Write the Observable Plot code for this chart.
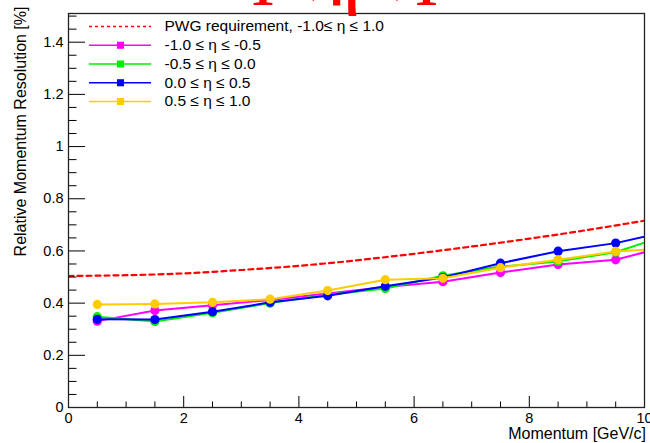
<!DOCTYPE html>
<html><head><meta charset="utf-8">
<script src="https://cdn.jsdelivr.net/npm/d3@7"></script>
<script src="https://cdn.jsdelivr.net/npm/@observablehq/plot@0.6"></script>
<style>html,body{margin:0;padding:0;background:#fff;} svg{display:block}</style>
</head><body><div id="chart"></div>
<script>
// ---- data ----
const momentum = [0.5, 1.5, 2.5, 3.5, 4.5, 5.5, 6.5, 7.5, 8.5, 9.5, 10.5];
const resEtaM10toM05 = [0.331, 0.372, 0.392, 0.412, 0.437, 0.462, 0.482, 0.517, 0.548, 0.566, 0.624];
const resEtaM05to00  = [0.348, 0.330, 0.363, 0.400, 0.432, 0.456, 0.505, 0.540, 0.560, 0.595, 0.669];
const resEta00to05   = [0.338, 0.337, 0.367, 0.403, 0.428, 0.465, 0.498, 0.553, 0.599, 0.630, 0.680];
const resEta05to10   = [0.395, 0.397, 0.403, 0.415, 0.448, 0.490, 0.495, 0.536, 0.566, 0.598, 0.612];
const pwgMomentum = [0, 1, 2, 3, 4, 5, 6, 7, 8, 9, 10, 11];
const pwgResolution = [0.504, 0.507, 0.514, 0.527, 0.543, 0.564, 0.589, 0.617, 0.647, 0.680, 0.716, 0.752];
const seriesLabels = ["-1.0 ≤ η ≤ -0.5", "-0.5 ≤ η ≤ 0.0", "0.0 ≤ η ≤ 0.5", "0.5 ≤ η ≤ 1.0"];
const seriesColors = ["#ff00ff", "#00ee00", "#0000ff", "#ffcc00"];
const pwgLabel = "PWG requirement, -1.0≤ η ≤ 1.0";
const titleText = "-1 < η < 1";
const xTicks = [0, 2, 4, 6, 8, 10];
const yTicks = [0, 0.2, 0.4, 0.6, 0.8, 1, 1.2, 1.4];
const xLabel = "Momentum [GeV/c]";
const yLabel = "Relative Momentum Resolution [%]";

// ---- layout ----
const W = 650, H = 443;
const mL = 68, mR = 6, mT = 13, mB = 36;
const plotW = W - mL - mR, plotH = H - mT - mB;
const xDom = [0, 10], yDom = [0, 1.51];
const px2x = px => xDom[0] + (px - mL) / plotW * (xDom[1] - xDom[0]);
const py2y = py => yDom[0] + (H - mB - py) / plotH * (yDom[1] - yDom[0]);

const xMinor = d3.range(0, 21).map(i => i * 0.5).filter(v => v % 2 !== 0);
const yMinor = d3.range(0, 31).map(i => +(i * 0.05).toFixed(2)).filter(v => Math.abs(v / 0.2 - Math.round(v / 0.2)) > 1e-6);

const allSeries = [resEtaM10toM05, resEtaM05to00, resEta00to05, resEta05to10];
const pwgRows = pwgMomentum.map((p, i) => ({p, r: pwgResolution[i]}));

const marks = [];
// PWG requirement
marks.push(Plot.line(pwgRows, {x: "p", y: "r", stroke: "#ff0000", strokeWidth: 2.2, strokeDasharray: "5,4", curve: "natural", clip: true}));
// series
allSeries.forEach((vals, k) => {
  const rows = momentum.map((p, i) => ({p, r: vals[i]}));
  marks.push(Plot.line(rows, {x: "p", y: "r", stroke: seriesColors[k], strokeWidth: 2, clip: true}));
  marks.push(Plot.dot(rows, {x: "p", y: "r", fill: seriesColors[k], r: 4.6, clip: true}));
});

// frame + ticks (inside, ROOT style)
marks.push(Plot.tickX(xTicks, {x: d => d, stroke: "#000", insetTop: plotH - 11}));
marks.push(Plot.tickX(xMinor, {x: d => d, stroke: "#000", insetTop: plotH - 5.5}));
marks.push(Plot.tickY(yTicks, {y: d => d, stroke: "#000", insetRight: plotW - 17}));
marks.push(Plot.tickY(yMinor, {y: d => d, stroke: "#000", insetRight: plotW - 8.5}));
marks.push(Plot.frame({stroke: "#222", strokeWidth: 1.3}));

// axes labels
marks.push(Plot.axisX({ticks: xTicks, tickSize: 0, tickPadding: 5, tickFormat: d => String(d), label: null, fontSize: 14.5, fill: "#000"}));
marks.push(Plot.axisY({ticks: yTicks, tickSize: 0, tickPadding: 5, tickFormat: d => String(d), label: null, fontSize: 14.5, fill: "#000"}));
marks.push(Plot.text([xLabel], {text: d => d, frameAnchor: "bottom-right", dx: 1.5, dy: 31, textAnchor: "end", lineAnchor: "bottom", fontSize: 16, fill: "#000"}));
marks.push(Plot.text([yLabel], {text: d => d, frameAnchor: "top-left", dx: -43, dy: -7, rotate: -90, textAnchor: "end", lineAnchor: "bottom", fontSize: 16, fill: "#000"}));

// title (partially off the top edge, as in the reference)
marks.push(Plot.text([titleText], {text: d => d, frameAnchor: "top", dx: -21, dy: -9, lineAnchor: "bottom", fontSize: 51, fontWeight: "bold", fontFamily: "Liberation Serif", fill: "#ff0000"}));

// legend
const legX1 = px2x(89), legX2 = px2x(151), legXm = px2x(120), legXt = px2x(164);
const rowY = i => py2y(26 + i * 18.75);
const legFont = 15.5;
marks.push(Plot.ruleY([rowY(0)], {x1: legX1, x2: legX2, stroke: "#ff0000", strokeWidth: 1.3, strokeDasharray: "3,3"}));
marks.push(Plot.text([pwgLabel], {text: d => d, x: legXt, y: rowY(0), textAnchor: "start", lineAnchor: "middle", fontSize: legFont, fill: "#000"}));
seriesLabels.forEach((lab, k) => {
  const yv = rowY(k + 1);
  marks.push(Plot.ruleY([yv], {x1: legX1, x2: legX2, stroke: seriesColors[k], strokeWidth: 1.3}));
  marks.push(Plot.dot([yv], {x: legXm, y: d => d, symbol: "square", r: 4, fill: seriesColors[k]}));
  marks.push(Plot.text([lab], {text: d => d, x: legXt, y: yv, textAnchor: "start", lineAnchor: "middle", fontSize: legFont, fill: "#000"}));
});

const chart = Plot.plot({
  width: W, height: H,
  marginLeft: mL, marginRight: mR, marginTop: mT, marginBottom: mB,
  x: {domain: xDom, axis: null},
  y: {domain: yDom, axis: null},
  style: {fontFamily: "Liberation Sans, Arial, sans-serif", background: "#fff", color: "#000", overflow: "visible"},
  marks
});
document.getElementById("chart").appendChild(chart);
</script>
</body></html>
